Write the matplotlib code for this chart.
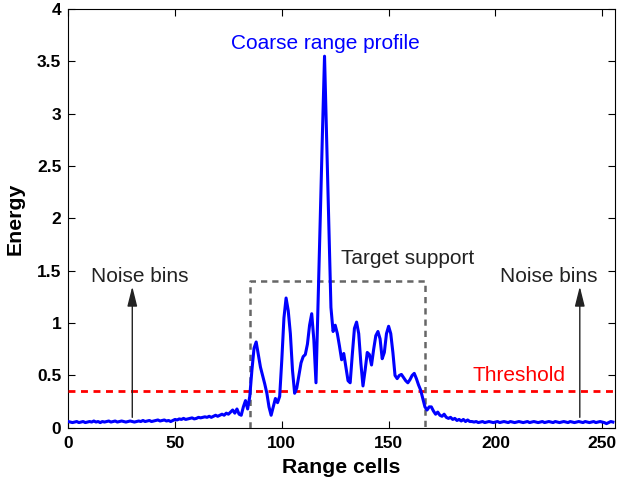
"""Perfil de alcance grosseiro com limiar e suporte do alvo."""

import matplotlib

matplotlib.use("Agg")

import matplotlib.pyplot as plt
import numpy as np

# Energia por celula de alcance.
energy = [
    0.060, 0.055, 0.050, 0.055, 0.060, 0.050, 0.055, 0.060, 0.050, 0.055,
    0.060, 0.055, 0.065, 0.055, 0.060, 0.050, 0.060, 0.055, 0.060, 0.065,
    0.055, 0.060, 0.065, 0.055, 0.060, 0.065, 0.060, 0.055, 0.060, 0.065,
    0.060, 0.055, 0.060, 0.065, 0.060, 0.070, 0.060, 0.065, 0.070, 0.060,
    0.065, 0.070, 0.075, 0.065, 0.070, 0.075, 0.065, 0.070, 0.060, 0.070,
    0.080, 0.075, 0.085, 0.080, 0.090, 0.080, 0.085, 0.090, 0.095, 0.085,
    0.090, 0.100, 0.095, 0.100, 0.105, 0.100, 0.110, 0.100, 0.110, 0.120,
    0.110, 0.120, 0.130, 0.120, 0.140, 0.130, 0.150, 0.170, 0.140, 0.180,
    0.130, 0.120, 0.200, 0.260, 0.180, 0.300, 0.550, 0.760, 0.820, 0.700,
    0.580, 0.500, 0.420, 0.330, 0.200, 0.120, 0.200, 0.280, 0.240, 0.300,
    0.650, 1.050, 1.240, 1.120, 0.900, 0.550, 0.330, 0.380, 0.500, 0.620,
    0.680, 0.700, 0.800, 0.980, 1.090, 0.840, 0.430, 1.200, 2.000, 2.800,
    3.550, 2.750, 1.950, 1.150, 0.920, 0.980, 0.900, 0.780, 0.650, 0.710,
    0.580, 0.450, 0.430, 0.700, 0.950, 1.010, 0.900, 0.620, 0.400, 0.550,
    0.720, 0.700, 0.600, 0.750, 0.880, 0.920, 0.850, 0.660, 0.720, 0.900,
    0.970, 0.900, 0.720, 0.500, 0.470, 0.500, 0.510, 0.480, 0.450, 0.430,
    0.460, 0.500, 0.520, 0.470, 0.410, 0.360, 0.280, 0.200, 0.170, 0.200,
    0.200, 0.160, 0.130, 0.150, 0.120, 0.110, 0.130, 0.100, 0.090, 0.100,
    0.080, 0.090, 0.070, 0.080, 0.065, 0.080, 0.060, 0.075, 0.060, 0.060,
    0.055, 0.060, 0.050, 0.055, 0.060, 0.050, 0.055, 0.060, 0.055, 0.050,
    0.055, 0.060, 0.050, 0.055, 0.060, 0.055, 0.050, 0.060, 0.055, 0.050,
    0.055, 0.060, 0.055, 0.050, 0.055, 0.060, 0.050, 0.055, 0.060, 0.055,
    0.050, 0.055, 0.060, 0.050, 0.055, 0.060, 0.055, 0.050, 0.060, 0.055,
    0.050, 0.055, 0.060, 0.055, 0.050, 0.060, 0.055, 0.050, 0.055, 0.060,
    0.055, 0.050, 0.060, 0.055, 0.050, 0.055, 0.060, 0.050, 0.055, 0.060,
    0.055, 0.050, 0.040, 0.050, 0.060, 0.055,
]
cells = np.arange(len(energy))

# Limiar e caixa do suporte do alvo.
threshold = 0.35
support_start, support_end = 85, 167
support_top = 1.4

# Setas das celulas de ruido: posicao x, base e topo.
noise_arrows_x = [30, 239.5]
arrow_bottom, arrow_top = 0.1, 1.35

plt.rcParams["font.family"] = ["Liberation Sans", "DejaVu Sans"]

fig = plt.figure(figsize=(6.2, 4.78), dpi=100)
ax = fig.add_axes([0.11, 0.105, 0.882, 0.876])

# Perfil de alcance.
ax.plot(cells, energy, color="#0000ff", linewidth=2.2, zorder=4)
# Linha de limiar.
ax.axhline(threshold, color="#ff0000", linestyle=(0, (2.5, 2)), linewidth=2.0, zorder=3)
# Caixa do suporte do alvo.
ax.plot([support_start, support_start, support_end, support_end],
         [0, support_top, support_top, 0],
         color="#666666", linestyle=(0, (2.5, 2)), linewidth=1.8, zorder=3)

# Setas das celulas de ruido.
for x in noise_arrows_x:
    ax.annotate("", xy=(x, arrow_top), xytext=(x, arrow_bottom),
                arrowprops=dict(arrowstyle="-|>,head_length=0.8,head_width=0.2",
                                color="#222222", lw=1.0,
                                mutation_scale=15, shrinkA=0, shrinkB=0))

# Textos explicativos.
fs = 15
ax.text(33.3, 1.45, "Noise bins", ha="center", va="center", fontsize=fs, color="#222222")
ax.text(225, 1.45, "Noise bins", ha="center", va="center", fontsize=fs, color="#222222")
ax.text(159, 1.62, "Target support", ha="center", va="center", fontsize=fs, color="#222222")
ax.text(211, 0.5, "Threshold", ha="center", va="center", fontsize=fs, color="#ff0000")
ax.text(120.4, 3.67, "Coarse range profile", ha="center", va="center", fontsize=fs, color="#0000ff")

# Eixos no estilo do original.
ax.set_xlim(0, 256)
ax.set_ylim(0, 4)
ax.set_xticks([0, 50, 100, 150, 200, 250])
ax.set_yticks([0, 0.5, 1, 1.5, 2, 2.5, 3, 3.5, 4])
ax.set_yticklabels(["0", "0.5", "1", "1.5", "2", "2.5", "3", "3.5", "4"])
ax.tick_params(direction="in", top=True, right=True, labelsize=12.5, length=5)
ax.tick_params(axis="x", pad=6)
ax.tick_params(axis="y", pad=5)
for label in ax.get_xticklabels() + ax.get_yticklabels():
    label.set_fontweight("bold")
ax.set_xlabel("Range cells", fontsize=15.3, fontweight="bold", labelpad=5)
ax.set_ylabel("Energy", fontsize=15.3, fontweight="bold", labelpad=9)

fig.savefig("out.png", dpi=100)
plt.close(fig)
